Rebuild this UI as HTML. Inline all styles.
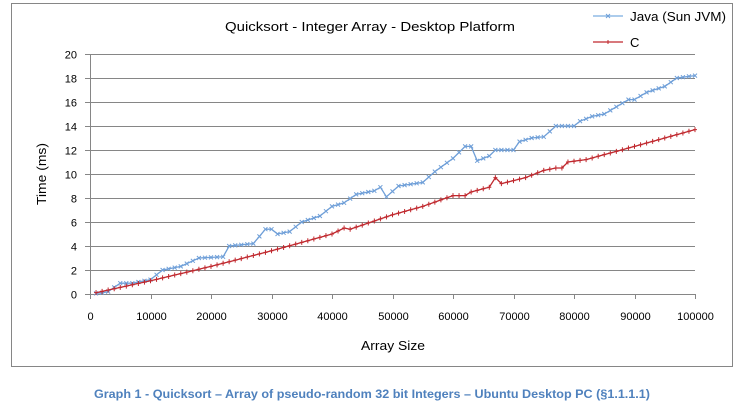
<!DOCTYPE html>
<html><head><meta charset="utf-8"><style>
html,body{margin:0;padding:0;background:#fff;width:744px;height:409px;overflow:hidden}
svg{display:block;font-family:"Liberation Sans",sans-serif}
</style></head><body>
<svg id="s" width="744" height="409" viewBox="0 0 744 409" xmlns="http://www.w3.org/2000/svg">
<rect x="11.5" y="3.5" width="721" height="363" fill="#fff" stroke="#868686" stroke-width="1"/>
<g id="grid" stroke="#868686" stroke-width="1"></g>
<text x="370" y="31" font-size="13" text-anchor="middle" fill="#000" textLength="290" lengthAdjust="spacingAndGlyphs">Quicksort  - Integer Array - Desktop Platform</text>
<g id="ylab" font-size="11" text-anchor="end" fill="#000"></g>
<g id="xlab" font-size="11" text-anchor="middle" fill="#000"></g>
<text x="393" y="350" font-size="13" text-anchor="middle" textLength="64" lengthAdjust="spacingAndGlyphs">Array Size</text>
<text transform="translate(46,174) rotate(-90)" font-size="13" text-anchor="middle" textLength="62" lengthAdjust="spacingAndGlyphs">Time (ms)</text>
<line x1="593" y1="16" x2="623" y2="16" stroke="#7aaee0" stroke-width="1.3"/>
<text x="630" y="21" font-size="13" textLength="96" lengthAdjust="spacingAndGlyphs">Java (Sun JVM)</text>
<line x1="593" y1="42" x2="623" y2="42" stroke="#c0282e" stroke-width="1.3"/>
<text x="630" y="47" font-size="13">C</text>
<g id="series"></g>
<text x="372" y="398" font-size="11.5" font-weight="bold" fill="#4f81bd" text-anchor="middle" textLength="556" lengthAdjust="spacingAndGlyphs">Graph 1 - Quicksort – Array of pseudo-random 32 bit Integers – Ubuntu Desktop PC (§1.1.1.1)</text>
</svg>
<script>
var NS="http://www.w3.org/2000/svg";
function el(p,t,a){var e=document.createElementNS(NS,t);for(var k in a)e.setAttribute(k,a[k]);document.getElementById(p).appendChild(e);return e;}
var X0=90,X1=695,Y0=294,YS=12;
function X(v){return X0+(X1-X0)*v/100;}function Y(v){return Y0-v*YS;}
for(var i=0;i<=10;i++){var y=Y(i*2)+0.5;
 if(i>0)el("grid","line",{x1:X0,y1:y,x2:X1,y2:y});
 el("grid","line",{x1:X0-5,y1:y,x2:X0,y2:y});
 var t=el("ylab","text",{x:X0-13,y:y+4});t.textContent=i*2;}
el("grid","line",{x1:X0+0.5,y1:Y(20),x2:X0+0.5,y2:Y0+0.5});
el("grid","line",{x1:X0,y1:Y0+0.5,x2:X1,y2:Y0+0.5});
for(var i=0;i<=10;i++){var x=Math.round(X(i*10))+0.5;
 el("grid","line",{x1:x,y1:Y0,x2:x,y2:Y0+5});
 var t=el("xlab","text",{x:x,y:Y0+26});t.textContent=i*10000;}
var java=[[0,0],[2,0.1],[3,0.2],[5,0.9],[7,0.9],[10,1.2],[12,2],[13,2.1],[15,2.3],[18,3],[22,3.1],[23,4],[27,4.2],[29,5.4],[30,5.4],[31,5],[33,5.2],[35,6],[38,6.5],[40,7.3],[42,7.6],[44,8.3],[47,8.6],[48,8.9],[49,8.1],[51,9],[55,9.3],[57,10.2],[60,11.3],[62,12.3],[63,12.3],[64,11.1],[66,11.5],[67,12],[70,12],[71,12.7],[73,13],[75,13.1],[77,14],[80,14],[81,14.4],[83,14.8],[85,15],[87,15.6],[89,16.2],[90,16.2],[92,16.8],[95,17.3],[97,18],[100,18.2]];
var c=[[0,0],[10,1.1],[20,2.3],[30,3.6],[40,5],[42,5.5],[43,5.4],[50,6.6],[55,7.3],[60,8.2],[62,8.2],[63,8.5],[66,8.9],[67,9.7],[68,9.2],[72,9.7],[75,10.3],[77,10.5],[78,10.5],[79,11],[82,11.2],[90,12.3],[100,13.7]];
function interp(d,x){for(var i=1;i<d.length;i++){if(x<=d[i][0]){var a=d[i-1],b=d[i];return a[1]+(b[1]-a[1])*(x-a[0])/(b[0]-a[0]);}}return d[d.length-1][1];}
function draw(d,col,mk){var pts=[];for(var k=1;k<=100;k++){pts.push([X(k),Y(interp(d,k))]);}
 el("series","polyline",{points:pts.map(function(p){return p[0].toFixed(1)+","+p[1].toFixed(1)}).join(" "),fill:"none",stroke:col,"stroke-width":1.3});
 var path="";pts.forEach(function(p){var x=p[0],y=p[1];
  if(mk=="x")path+="M"+(x-2)+","+(y-2)+"L"+(x+2)+","+(y+2)+"M"+(x-2)+","+(y+2)+"L"+(x+2)+","+(y-2);
  else path+="M"+x+","+(y-2.5)+"L"+x+","+(y+2.5)+"M"+(x-2)+","+y+"L"+(x+2)+","+y;});
 el("series","path",{d:path,stroke:col,"stroke-width":1,fill:"none"});}
draw(java,"#6f9fd8","x");
draw(c,"#c0282e","+");
el("series","path",{d:"M606,14L610,18M606,18L610,14",stroke:"#6f9fd8","stroke-width":1});
el("series","path",{d:"M608,40L608,44M606,42L610,42",stroke:"#c0282e","stroke-width":1});
</script>
</body></html>
